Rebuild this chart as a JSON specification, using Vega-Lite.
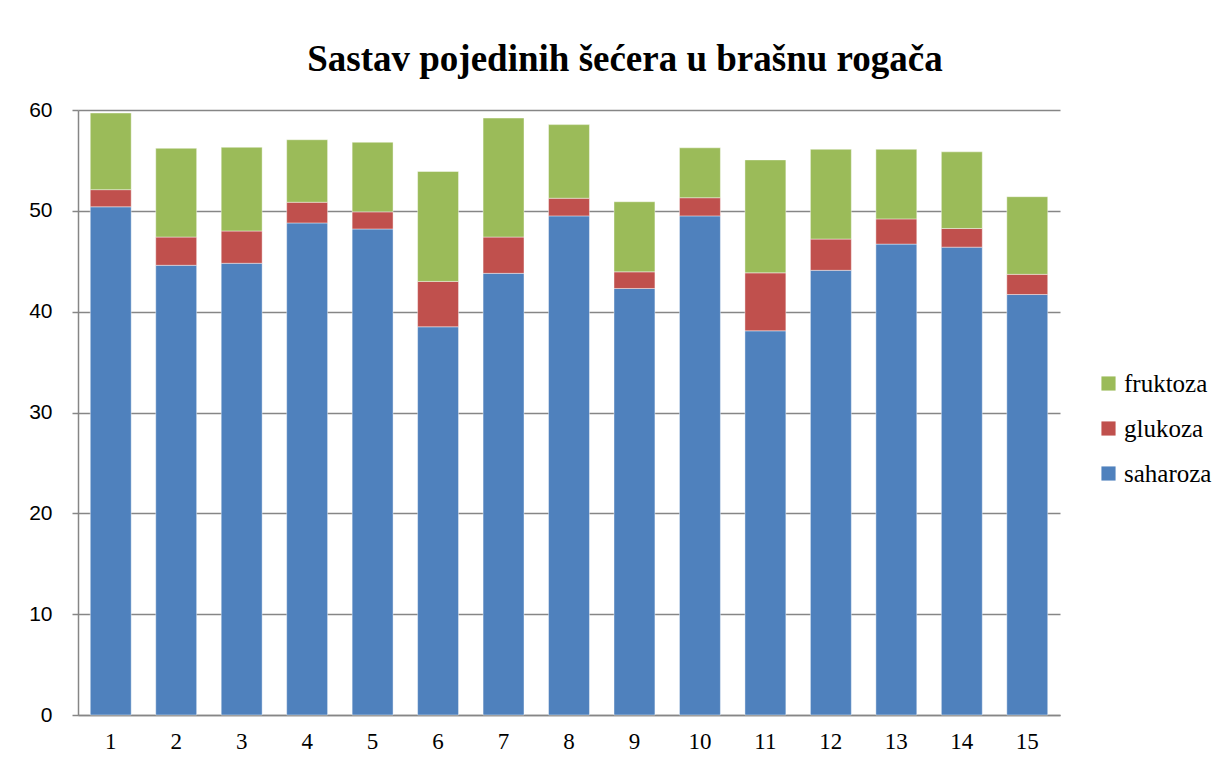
{
  "$schema": "https://vega.github.io/schema/vega-lite/v6.json",
  "autosize": "none",
  "width": 982,
  "height": 605,
  "padding": {"left": 78, "top": 110, "right": 171, "bottom": 55},
  "background": "white",
  "title": {
    "text": "Sastav pojedinih šećera u brašnu rogača",
    "font": "Liberation Serif",
    "fontSize": 37,
    "fontWeight": "bold",
    "color": "black",
    "anchor": "middle",
    "dx": 56,
    "offset": 20
  },
  "data": {
    "values": [
      {"uzorak": "1", "secer": "saharoza", "v": 50.4}, {"uzorak": "1", "secer": "glukoza", "v": 1.7}, {"uzorak": "1", "secer": "fruktoza", "v": 7.6},
      {"uzorak": "2", "secer": "saharoza", "v": 44.6}, {"uzorak": "2", "secer": "glukoza", "v": 2.8}, {"uzorak": "2", "secer": "fruktoza", "v": 8.8},
      {"uzorak": "3", "secer": "saharoza", "v": 44.8}, {"uzorak": "3", "secer": "glukoza", "v": 3.2}, {"uzorak": "3", "secer": "fruktoza", "v": 8.3},
      {"uzorak": "4", "secer": "saharoza", "v": 48.8}, {"uzorak": "4", "secer": "glukoza", "v": 2.05}, {"uzorak": "4", "secer": "fruktoza", "v": 6.2},
      {"uzorak": "5", "secer": "saharoza", "v": 48.2}, {"uzorak": "5", "secer": "glukoza", "v": 1.7}, {"uzorak": "5", "secer": "fruktoza", "v": 6.9},
      {"uzorak": "6", "secer": "saharoza", "v": 38.5}, {"uzorak": "6", "secer": "glukoza", "v": 4.5}, {"uzorak": "6", "secer": "fruktoza", "v": 10.9},
      {"uzorak": "7", "secer": "saharoza", "v": 43.8}, {"uzorak": "7", "secer": "glukoza", "v": 3.6}, {"uzorak": "7", "secer": "fruktoza", "v": 11.8},
      {"uzorak": "8", "secer": "saharoza", "v": 49.5}, {"uzorak": "8", "secer": "glukoza", "v": 1.75}, {"uzorak": "8", "secer": "fruktoza", "v": 7.3},
      {"uzorak": "9", "secer": "saharoza", "v": 42.3}, {"uzorak": "9", "secer": "glukoza", "v": 1.65}, {"uzorak": "9", "secer": "fruktoza", "v": 6.95},
      {"uzorak": "10", "secer": "saharoza", "v": 49.5}, {"uzorak": "10", "secer": "glukoza", "v": 1.8}, {"uzorak": "10", "secer": "fruktoza", "v": 4.95},
      {"uzorak": "11", "secer": "saharoza", "v": 38.1}, {"uzorak": "11", "secer": "glukoza", "v": 5.75}, {"uzorak": "11", "secer": "fruktoza", "v": 11.2},
      {"uzorak": "12", "secer": "saharoza", "v": 44.1}, {"uzorak": "12", "secer": "glukoza", "v": 3.1}, {"uzorak": "12", "secer": "fruktoza", "v": 8.9},
      {"uzorak": "13", "secer": "saharoza", "v": 46.7}, {"uzorak": "13", "secer": "glukoza", "v": 2.5}, {"uzorak": "13", "secer": "fruktoza", "v": 6.9},
      {"uzorak": "14", "secer": "saharoza", "v": 46.4}, {"uzorak": "14", "secer": "glukoza", "v": 1.85}, {"uzorak": "14", "secer": "fruktoza", "v": 7.6},
      {"uzorak": "15", "secer": "saharoza", "v": 41.7}, {"uzorak": "15", "secer": "glukoza", "v": 2.0}, {"uzorak": "15", "secer": "fruktoza", "v": 7.7}
    ]
  },
  "mark": {"type": "bar", "stroke": "white", "strokeWidth": 0.6, "strokeOpacity": 0.7},
  "encoding": {
    "x": {
      "field": "uzorak",
      "type": "ordinal",
      "sort": null,
      "scale": {"paddingInner": 0.375, "paddingOuter": 0.1875},
      "axis": {
        "title": null,
        "labelAngle": 0,
        "labelFont": "Liberation Serif",
        "labelFontSize": 23,
        "labelColor": "black",
        "labelPadding": 15,
        "ticks": false,
        "domainColor": "#868686",
        "domainWidth": 1.5
      }
    },
    "y": {
      "field": "v",
      "type": "quantitative",
      "aggregate": "sum",
      "stack": "zero",
      "scale": {"domain": [0, 60], "nice": false},
      "axis": {
        "title": null,
        "values": [0, 10, 20, 30, 40, 50, 60],
        "labelFont": "Liberation Sans",
        "labelFontSize": 21,
        "labelColor": "black",
        "labelPadding": 20,
        "tickSize": 6,
        "tickColor": "#868686",
        "tickWidth": 1.5,
        "grid": true,
        "gridColor": "#868686",
        "gridWidth": 1.5,
        "domainColor": "#868686",
        "domainWidth": 1.5
      }
    },
    "color": {
      "field": "secer",
      "type": "nominal",
      "scale": {
        "domain": ["fruktoza", "glukoza", "saharoza"],
        "range": ["#9BBB59", "#C0504D", "#4F81BD"]
      },
      "legend": {
        "title": null,
        "orient": "none",
        "legendX": 1018,
        "legendY": 261,
        "symbolType": "square",
        "symbolSize": 200,
        "symbolStrokeWidth": 0,
        "labelFont": "Liberation Serif",
        "labelFontSize": 25,
        "labelColor": "black",
        "rowPadding": 19,
        "labelOffset": 3
      }
    },
    "order": {"field": "secer", "sort": "descending"}
  },
  "config": {
    "view": {"stroke": null}
  }
}
